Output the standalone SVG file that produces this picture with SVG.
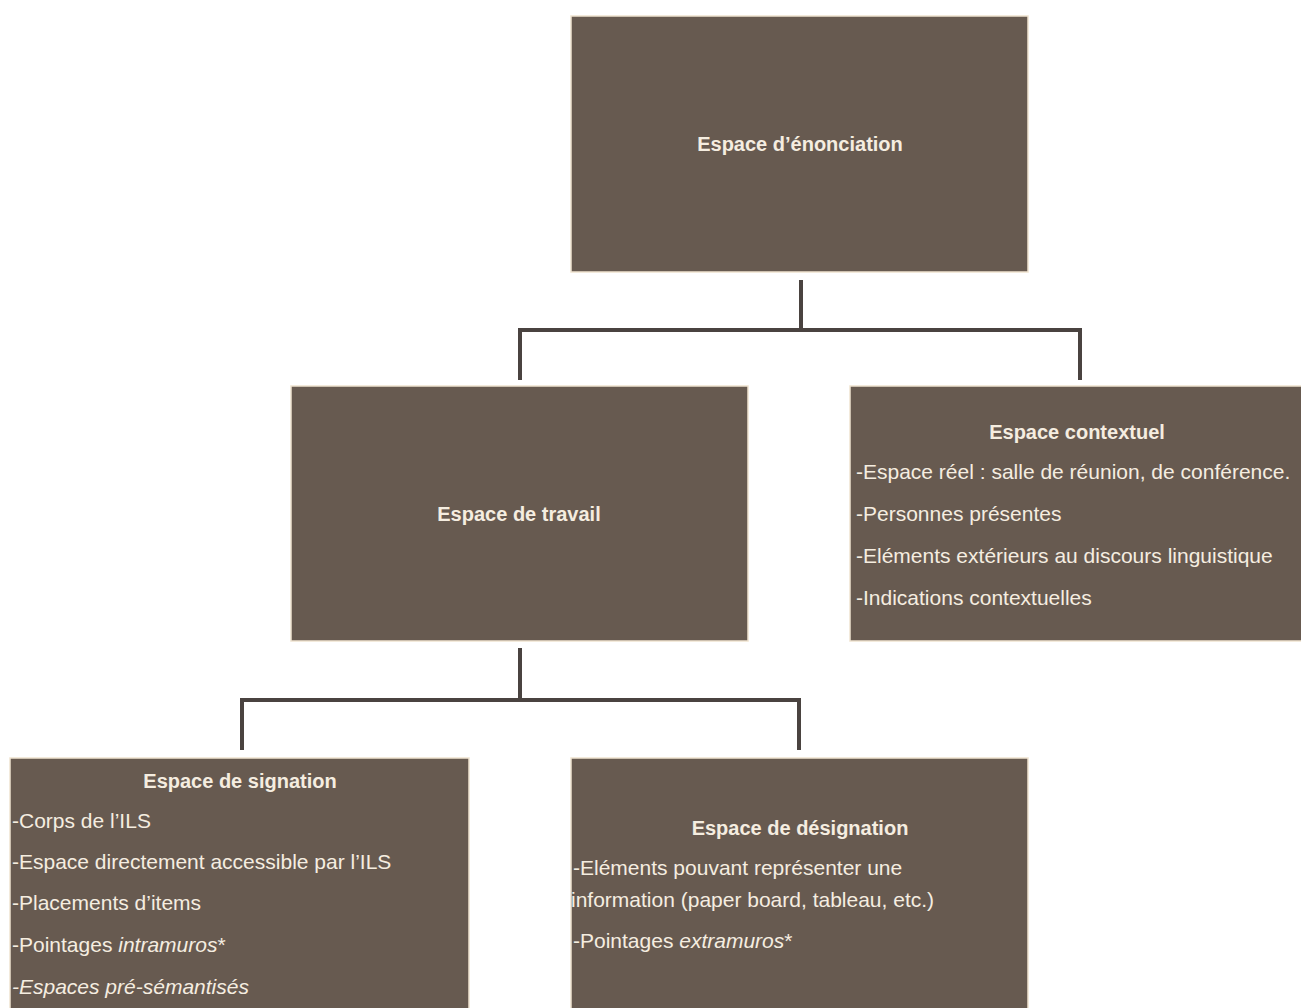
<svg xmlns="http://www.w3.org/2000/svg" width="1301" height="1008" viewBox="0 0 1301 1008">
<style>
.box{fill:#675a50;stroke:#efe3cf;stroke-width:1.5}
.t{font-family:"Liberation Sans","DejaVu Sans",sans-serif;font-size:21px;fill:#f5ede0}
.b{font-weight:bold;text-anchor:middle;font-size:20px}
.i{font-style:italic}
.c{fill:none;stroke:#4a4340;stroke-width:4;stroke-linejoin:miter}
</style>
<rect width="1301" height="1008" fill="#ffffff"/>
<g id="connectors">
<path class="c" d="M801,280 V330 M520,380 V330 H1080 V380"/>
<path class="c" d="M520,648 V700 M242,750 V700 H799 V750"/>
</g>
<g id="n-enonciation">
<rect class="box" x="571" y="16" width="457" height="256"/>
<text class="t b" x="800" y="151">Espace d’énonciation</text>
</g>
<g id="n-travail">
<rect class="box" x="291" y="386" width="457" height="255"/>
<text class="t b" x="519" y="521">Espace de travail</text>
</g>
<g id="n-contextuel">
<rect class="box" x="850" y="386" width="455" height="255"/>
<text class="t b" x="1077" y="439">Espace contextuel</text>
<text class="t" x="856" y="479">-Espace réel : salle de réunion, de conférence.</text>
<text class="t" x="856" y="521">-Personnes présentes</text>
<text class="t" x="856" y="563">-Eléments extérieurs au discours linguistique</text>
<text class="t" x="856" y="605">-Indications contextuelles</text>
</g>
<g id="n-signation">
<rect class="box" x="10" y="758" width="459" height="254"/>
<text class="t b" x="240" y="788">Espace de signation</text>
<text class="t" x="12" y="828">-Corps de l’ILS</text>
<text class="t" x="12" y="869">-Espace directement accessible par l’ILS</text>
<text class="t" x="12" y="910">-Placements d’items</text>
<text class="t" x="12" y="952">-Pointages <tspan class="i">intramuros</tspan>*</text>
<text class="t i" x="12" y="994">-Espaces pré-sémantisés</text>
</g>
<g id="n-designation">
<rect class="box" x="571" y="758" width="457" height="254"/>
<text class="t b" x="800" y="835">Espace de désignation</text>
<text class="t" x="573" y="875">-Eléments pouvant représenter une</text>
<text class="t" x="571" y="907">information (paper board, tableau, etc.)</text>
<text class="t" x="573" y="948">-Pointages <tspan class="i">extramuros</tspan>*</text>
</g>
</svg>
